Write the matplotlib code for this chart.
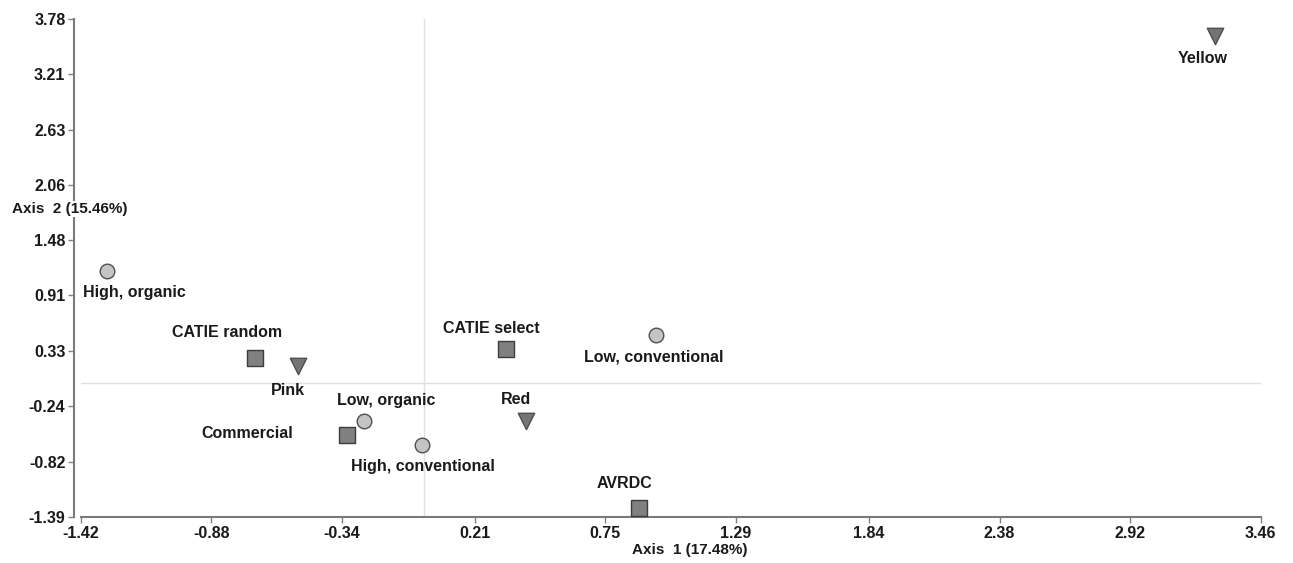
import matplotlib

matplotlib.use("Agg")

import matplotlib.pyplot as plt

plt.rcParams["font.family"] = ["Liberation Sans", "DejaVu Sans"]
plt.rcParams["font.weight"] = "bold"

# Ordination scores on the first two axes
NAMES = [
    "Yellow", "High, organic", "CATIE random", "Pink", "Commercial",
    "Low, organic", "High, conventional", "CATIE select", "Low, conventional",
    "Red", "AVRDC",
]
AXIS1 = [3.27, -1.31, -0.70, -0.52, -0.32, -0.25, -0.01, 0.34, 0.96, 0.42, 0.89]
AXIS2 = [3.60, 1.16, 0.26, 0.18, -0.54, -0.40, -0.64, 0.35, 0.50, -0.40, -1.30]
GROUPS = ["colour", "system", "source", "colour", "source",
          "system", "system", "source", "system", "colour", "source"]

X_TICKS = [-1.42, -0.88, -0.34, 0.21, 0.75, 1.29, 1.84, 2.38, 2.92, 3.46]
Y_TICKS = [-1.39, -0.82, -0.24, 0.33, 0.91, 1.48, 2.06, 2.63, 3.21, 3.78]

GROUP_STYLE = {
    "system": dict(marker="o", s=110, facecolor="#c4c4c4", edgecolor="#505050"),
    "source": dict(marker="s", s=130, facecolor="#808080", edgecolor="#3c3c3c"),
    "colour": dict(marker="v", s=140, facecolor="#747474", edgecolor="#505050"),
}

# label offsets from each point, in pixels
LABEL_OFFSETS = {
    "Yellow": (-12, -22),
    "High, organic": (27, -21),
    "CATIE random": (-28, 25),
    "Pink": (-10, -25),
    "Commercial": (-99, 1),
    "Low, organic": (23, 21),
    "High, conventional": (1, -22),
    "CATIE select": (-15, 21),
    "Low, conventional": (-2, -22),
    "Red": (-10, 22),
    "AVRDC": (-15, 25),
}

fig = plt.figure(figsize=(12.93, 5.63), dpi=100)
ax = fig.add_axes([0.0624, 0.0822, 0.9126, 0.8841])

ax.axhline(0, color="#e0e0e0", linewidth=1, zorder=0)
ax.axvline(0, color="#e0e0e0", linewidth=1, zorder=0)

for name, x, y, group in zip(NAMES, AXIS1, AXIS2, GROUPS):
    ax.scatter(x, y, linewidths=1, zorder=3, **GROUP_STYLE[group])
    dx, dy = LABEL_OFFSETS[name]
    ax.annotate(
        name, (x, y), xytext=(dx, dy), textcoords="offset pixels",
        ha="center", va="center", fontsize=11.5, fontweight="bold",
        color="#1a1a1a",
    )

ax.set_xlim(X_TICKS[0], X_TICKS[-1])
ax.set_ylim(Y_TICKS[0], Y_TICKS[-1])
ax.set_xticks(X_TICKS)
ax.set_yticks(Y_TICKS)
ax.set_xticklabels([f"{v:.2f}" for v in X_TICKS])
ax.set_yticklabels([f"{v:.2f}" for v in Y_TICKS])
ax.tick_params(labelsize=11.5, colors="#808080", labelcolor="#1a1a1a",
               length=4, width=1)
ax.tick_params(axis="x", pad=3)
ax.tick_params(axis="y", pad=2)

for side in ("top", "right"):
    ax.spines[side].set_visible(False)
for side in ("left", "bottom"):
    ax.spines[side].set_color("#7a7a7a")
    ax.spines[side].set_linewidth(1.5)
ax.spines["left"].set_position(("outward", 5))

fig.text(12 / 1293, 1 - 209 / 563, "Axis  2 (15.46%)", ha="left", va="center",
         fontsize=11, fontweight="bold", color="#1a1a1a",
         bbox=dict(facecolor="white", edgecolor="none", pad=1))
fig.text(690 / 1293, 1 - 550 / 563, "Axis  1 (17.48%)", ha="center", va="center",
         fontsize=11, fontweight="bold", color="#1a1a1a")

fig.savefig("out.png", dpi=100)
plt.close(fig)
